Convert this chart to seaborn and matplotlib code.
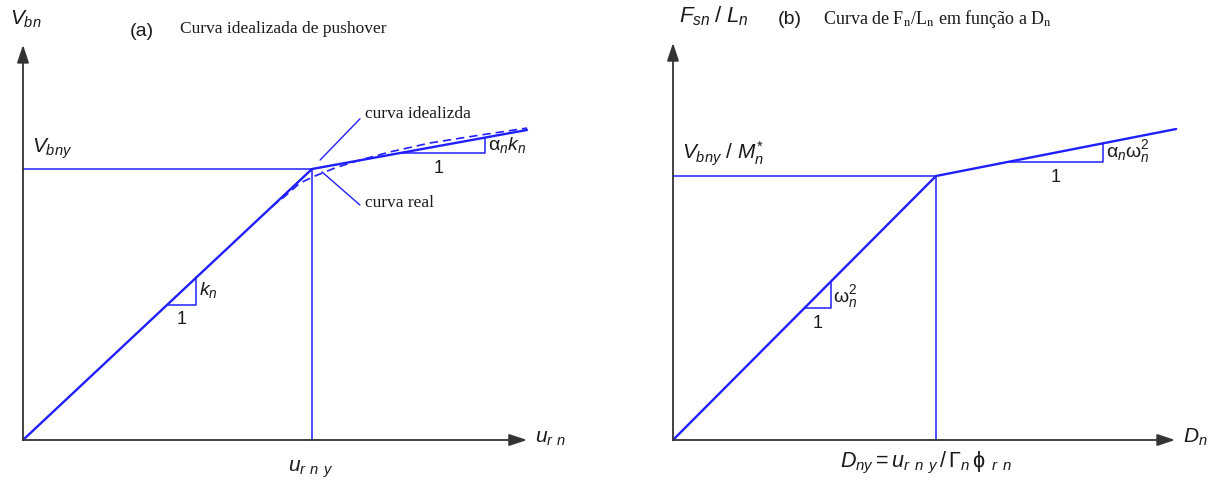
import numpy as np
import pandas as pd
import matplotlib
matplotlib.use("Agg")
import matplotlib.pyplot as plt
import seaborn as sns

# ---- Panel (a): idealised bilinear pushover curve (base shear vs roof displacement)
disp_ideal = [0.0, 1.0, 1.744]
shear_ideal = [0.0, 1.0, 1.144]
# actual pushover curve (dashed), leaving the elastic branch before yield
disp_real = [0.86, 0.907, 0.958, 1.010, 1.080, 1.166, 1.270, 1.408, 1.581, 1.744]
shear_real = [0.86, 0.900, 0.948, 0.974, 1.004, 1.033, 1.063, 1.096, 1.125, 1.151]

# ---- Panel (b): force/mass vs displacement of the equivalent SDOF system
disp_sdof = [0.0, 1.0, 1.913]
force_sdof = [0.0, 1.0, 1.178]

# slope triangles: (start abscissa, horizontal run)
tri_elastic_a = (0.50, 0.10)
tri_post_a = (1.30, 0.30)
tri_elastic_b = (0.50, 0.10)
tri_post_b = (1.266, 0.37)

BLUE = "#1f1fff"
AXIS = "#333333"
INK = "#1a1a1a"

sns.set_theme(style="white")
plt.rcParams["font.family"] = ["Liberation Sans", "DejaVu Sans"]
plt.rcParams["mathtext.fontset"] = "custom"
plt.rcParams["mathtext.rm"] = "Liberation Sans"
plt.rcParams["mathtext.it"] = "Liberation Sans:italic"
plt.rcParams["mathtext.bf"] = "Liberation Sans:bold"
plt.rcParams["mathtext.sf"] = "Liberation Sans"

fig = plt.figure(figsize=(12.18, 4.86), dpi=100)
fig.patch.set_facecolor("white")

ax_a = fig.add_axes([0.0, 0.0, 0.5, 1.0])
ax_a.set_xlim(-23 / 289, 586 / 289)
ax_a.set_ylim(-46 / 271, 440 / 271)

ax_b = fig.add_axes([0.5, 0.0, 0.5, 1.0])
ax_b.set_xlim(-64 / 263, 545 / 263)
ax_b.set_ylim(-46 / 264, 440 / 264)

for ax in (ax_a, ax_b):
    ax.set_axis_off()


def axis_arrow(ax, tip):
    ax.annotate("", xy=tip, xytext=(0, 0),
                arrowprops=dict(arrowstyle="-|>,head_length=0.9,head_width=0.3",
                                color=AXIS, lw=1.3, shrinkA=0, shrinkB=0),
                annotation_clip=False)


def curve(ax, xs, ys, lw, ls="-"):
    df = pd.DataFrame({"x": xs, "y": ys})
    sns.lineplot(data=df, x="x", y="y", ax=ax, sort=False, estimator=None,
                 color=BLUE, lw=lw, ls=ls, legend=False)


def slope_triangle(ax, xs, ys, spec):
    x0, run = spec
    y0 = np.interp(x0, xs, ys)
    y1 = np.interp(x0 + run, xs, ys)
    curve(ax, [x0, x0 + run, x0 + run], [y0, y0, y1], lw=1.1)


def yield_guides(ax, xs, ys):
    uy, vy = xs[1], ys[1]
    curve(ax, [0, uy], [vy, vy], lw=1.1)
    curve(ax, [uy, uy], [0, vy], lw=1.1)


# ---------------- panel (a)
axis_arrow(ax_a, (1.744, 0))
axis_arrow(ax_a, (0, 1.458))
yield_guides(ax_a, disp_ideal, shear_ideal)
curve(ax_a, disp_real, shear_real, lw=1.2, ls=(0, (5, 3)))
curve(ax_a, disp_ideal, shear_ideal, lw=1.7)
slope_triangle(ax_a, disp_ideal, shear_ideal, tri_elastic_a)
slope_triangle(ax_a, disp_ideal, shear_ideal, tri_post_a)

# leader lines for the two curves
curve(ax_a, [1.028, 1.166], [1.033, 1.185], lw=1.0)
curve(ax_a, [1.035, 1.166], [0.989, 0.867], lw=1.0)

ax_a.text(-0.045, 1.531, r"$V_{bn}$", fontsize=15, color=INK, va="baseline")
ax_a.text(0.370, 1.491, "(a)", fontsize=14, color=INK, va="baseline")
ax_a.text(0.543, 1.500, "Curva idealizada de pushover", fontsize=12.5,
          family="Liberation Serif", color=INK, va="baseline")
ax_a.text(0.031, 1.059, r"$V_{bny}$", fontsize=15, color=INK, va="baseline")
ax_a.text(0.917, -0.118, r"$u_{r\;\,n\;\,y}$", fontsize=15, color=INK, va="baseline")
ax_a.text(1.772, -0.011, r"$u_{r\;\,n}$", fontsize=15, color=INK, va="baseline")
ax_a.text(0.609, 0.535, r"$k_n$", fontsize=14, color=INK, va="baseline")
ax_a.text(0.549, 0.428, "1", fontsize=13, color=INK, va="baseline", ha="center")
ax_a.text(1.439, 0.985, "1", fontsize=13, color=INK, va="baseline", ha="center")
ax_a.text(1.609, 1.070, r"$\mathrm{\alpha}_n k_n$", fontsize=14, color=INK, va="baseline")
ax_a.text(1.183, 1.187, "curva idealizda", fontsize=12.5,
          family="Liberation Serif", color=INK, va="baseline")
ax_a.text(1.183, 0.860, "curva real", fontsize=12.5,
          family="Liberation Serif", color=INK, va="baseline")

# ---------------- panel (b)
axis_arrow(ax_b, (1.909, 0))
axis_arrow(ax_b, (0, 1.504))
yield_guides(ax_b, disp_sdof, force_sdof)
curve(ax_b, disp_sdof, force_sdof, lw=1.7)
slope_triangle(ax_b, disp_sdof, force_sdof, tri_elastic_b)
slope_triangle(ax_b, disp_sdof, force_sdof, tri_post_b)

ax_b.text(0.023, 1.583, r"$F_{sn}\;/\;L_n$", fontsize=16, color=INK, va="baseline")
ax_b.text(0.399, 1.576, "(b)", fontsize=14, color=INK, va="baseline")
ax_b.text(0.569, 1.576,
          r"Curva de F$_{\mathrm{n}}$/L$_{\mathrm{n}}$ em função a D$_{\mathrm{n}}$",
          fontsize=13, family="Liberation Serif", math_fontfamily="stix",
          color=INK, va="baseline")
ax_b.text(0.034, 1.061, r"$V_{bny}\ /\ M_n^{*}$", fontsize=15, color=INK, va="baseline")
ax_b.text(0.635, -0.102,
          r"$D_{ny} = u_{r\;\,n\;\,y}\,/\,\Gamma_n\,\mathrm{\phi}_{\;\;r\;\,n}$",
          fontsize=15.5, color=INK, va="baseline")
ax_b.text(1.939, -0.011, r"$D_n$", fontsize=15, color=INK, va="baseline")
ax_b.text(0.608, 0.523, r"$\mathrm{\omega}_n^2$", fontsize=14, color=INK, va="baseline")
ax_b.text(0.551, 0.424, "1", fontsize=13, color=INK, va="baseline", ha="center")
ax_b.text(1.456, 0.977, "1", fontsize=13, color=INK, va="baseline", ha="center")
ax_b.text(1.646, 1.072, r"$\mathrm{\alpha}_n\mathrm{\omega}_n^2$", fontsize=14,
          color=INK, va="baseline")

fig.savefig("out.png", dpi=100, facecolor="white")
